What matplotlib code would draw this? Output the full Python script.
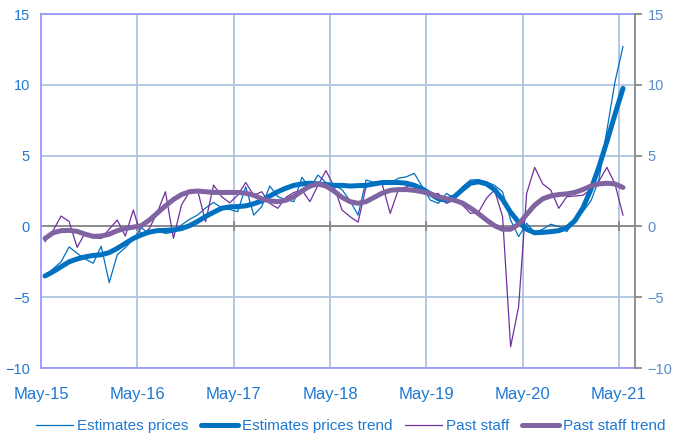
import numpy as np
import matplotlib
matplotlib.use("Agg")
import matplotlib.pyplot as plt
from matplotlib import font_manager

# --- Data (monthly, Jun-15 .. Jun-21) ---
year_labels = ["May-15", "May-16", "May-17", "May-18", "May-19", "May-20", "May-21"]

estimates_prices = [
    -3.5, -3.0, -2.5, -1.45, -1.9, -2.3, -2.6, -1.4, -3.97, -2.0,
    -1.5, -0.9, -0.1, -0.5, -0.3, -0.5, -0.4, 0.1, 0.5, 0.8,
    1.3, 1.7, 1.3, 1.2, 1.04, 2.8, 0.8, 1.4, 2.85, 2.1,
    1.9, 1.75, 3.47, 2.7, 3.63, 3.1, 2.9, 2.6, 1.8, 0.8,
    3.28, 3.1, 3.0, 3.05, 3.4, 3.5, 3.75, 2.8, 1.86, 1.63,
    2.33, 2.0, 2.8, 3.28, 3.3, 3.15, 2.9, 2.45, 0.45, -0.72,
    0.22, -0.45, -0.2, 0.15, 0.0, -0.37, 0.5, 1.04, 1.8, 3.3,
    6.8, 10.2, 12.7,
]
estimates_trend = [
    -3.5, -3.2, -2.85, -2.5, -2.3, -2.15, -2.05, -2.0, -1.85, -1.55,
    -1.2, -0.85, -0.6, -0.4, -0.3, -0.28, -0.25, -0.15, 0.05, 0.35,
    0.7, 1.0, 1.28, 1.38, 1.4, 1.45, 1.6, 1.8, 2.15, 2.45,
    2.7, 2.9, 3.0, 3.05, 3.0, 2.95, 2.9, 2.9, 2.85, 2.88,
    2.9, 3.0, 3.1, 3.1, 3.1, 3.05, 2.9, 2.65, 2.3, 1.95,
    1.85, 2.1, 2.6, 3.05, 3.15, 3.0, 2.6, 1.9, 1.0, 0.3,
    -0.2, -0.45, -0.42, -0.37, -0.3, -0.1, 0.4, 1.3, 2.6, 4.2,
    6.0, 7.9, 9.75,
]
past_staff = [
    -1.08, -0.3, 0.73, 0.35, -1.48, -0.44, -0.8, -0.85, -0.2, 0.45,
    -0.68, 1.16, -0.72, -0.14, 1.0, 2.45, -0.84, 1.51, 2.45, 2.57,
    0.33, 2.92, 2.1, 1.67, 2.2, 3.1, 2.2, 2.45, 1.63, 1.28,
    2.05, 2.4, 2.57, 1.75, 2.9, 3.94, 2.82, 1.16, 0.69, 0.3,
    2.82, 3.15, 3.0, 0.92, 2.57, 2.8, 3.0, 2.45, 2.2, 2.33,
    1.63, 1.86, 1.5, 0.92, 1.0, 2.0, 2.57, 0.69, -8.5, -5.67,
    2.33, 4.17, 3.0, 2.57, 1.28, 2.1, 2.15, 2.2, 2.6, 3.2,
    4.17, 3.0, 0.8,
]
past_staff_trend = [
    -0.85, -0.45, -0.3, -0.28, -0.35, -0.55, -0.7, -0.68, -0.55, -0.3,
    -0.15, -0.05, 0.05, 0.45, 0.95, 1.45, 1.9, 2.25, 2.45, 2.5,
    2.45, 2.4, 2.4, 2.4, 2.4, 2.35, 2.2, 1.95, 1.8, 1.75,
    1.85, 2.1, 2.5, 2.85, 3.0, 2.85, 2.5, 2.05, 1.75, 1.63,
    1.75, 2.05, 2.35, 2.55, 2.6, 2.6, 2.55, 2.45, 2.3, 2.1,
    1.95, 1.85, 1.65, 1.3, 0.9, 0.45, 0.05, -0.2, -0.2, 0.15,
    0.85, 1.5, 1.95, 2.15, 2.25, 2.3, 2.4, 2.6, 2.85, 3.0,
    3.05, 3.0, 2.75,
]

# months since May-15, points sit mid-month
months = np.arange(len(estimates_prices)) + 0.5
year_ticks = np.arange(len(year_labels)) * 12

plt.rcParams["font.family"] = ["Liberation Sans", "DejaVu Sans"]

blue = "#0070C0"
purple = "#7030A0"
lavender = "#8064A2"
grid_c = "#AFC4E0"
label_c = "#1F78D1"

fig = plt.figure(figsize=(6.88, 4.45), dpi=100)
ax = fig.add_axes([0.0596, 0.173, 0.8634, 0.7955])

ax.set_xlim(0, 74)
ax.set_ylim(-10, 15)
ax.set_yticks(np.arange(-10, 16, 5))
ax.set_xticks(year_ticks)
ax.set_xticklabels(year_labels)
ax.grid(True, color=grid_c, linewidth=1.3)
ax.set_axisbelow(True)

# zero line with small cross ticks
ax.axhline(0, color="#888888", linewidth=1.3, zorder=1)
ax.vlines(year_ticks, -0.35, 0.35, color="#888888", linewidth=1.3, zorder=1)

l1, = ax.plot(months, estimates_prices, color=blue, linewidth=0.9, label="Estimates prices", zorder=3)
l2, = ax.plot(months, estimates_trend, color=blue, linewidth=3.6, label="Estimates prices trend",
              solid_capstyle="round", zorder=4)
l3, = ax.plot(months, past_staff, color=purple, linewidth=0.9, label="Past staff", zorder=3)
l4, = ax.plot(months, past_staff_trend, color=lavender, linewidth=3.6, label="Past staff trend",
              solid_capstyle="round", zorder=5)

for side in ["left", "top", "bottom"]:
    ax.spines[side].set_color("#9999FF")
    ax.spines[side].set_linewidth(1.3)
ax.spines["right"].set_visible(False)
ax.tick_params(axis="y", length=0, labelsize=10.5, labelcolor=label_c, pad=8)
ax.tick_params(axis="x", length=0, labelsize=12, labelcolor=label_c, pad=14)

# right axis
ax2 = ax.twinx()
ax2.set_ylim(ax.get_ylim())
ax2.set_yticks(np.arange(-10, 16, 5))
for side in ["left", "top", "bottom"]:
    ax2.spines[side].set_visible(False)
ax2.spines["right"].set_color("#888888")
ax2.spines["right"].set_linewidth(1.3)
ax2.tick_params(axis="y", length=5, width=1.3, color="#888888", labelsize=10.5,
                labelcolor="#5B8BD0", pad=4)

leg = fig.legend(handles=[l1, l2, l3, l4], loc="lower center", bbox_to_anchor=(0.51, -0.005),
                 ncol=4, frameon=False, handlelength=2.4, handletextpad=0.3, columnspacing=0.8,
                 prop={"size": 11})
for t in leg.get_texts():
    t.set_color(label_c)

fig.savefig("out.png", dpi=100)
